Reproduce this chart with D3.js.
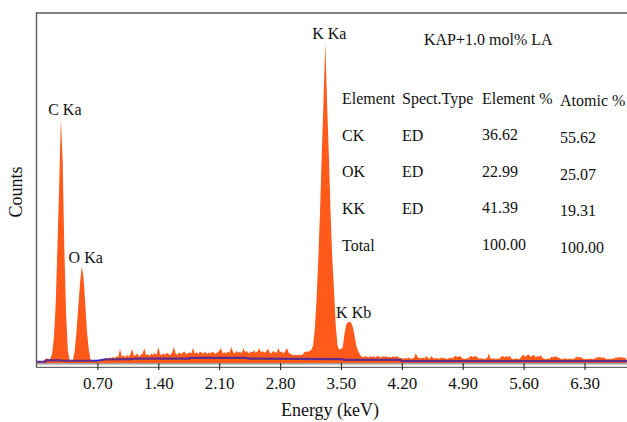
<!DOCTYPE html>
<html>
<head>
<meta charset="utf-8">
<script src="https://cdn.jsdelivr.net/npm/d3@7"></script>
<style>
    body { margin: 0; background: #fff; }
    svg { display: block; font-family: "Liberation Serif", "Times New Roman", serif; }
</style>
</head>
<body>
<div id="showBox"></div>
<script>
// EDS spectrum, one count value per 0.02 keV channel starting at 0 keV
const channelStep = 0.02;
const counts = [
    4, 4, 4, 5, 6, 12, 15, 10, 14, 30,
    80, 180, 360, 550, 766, 640, 360, 157, 40, 10,
    8, 10, 40, 100, 175, 250, 303, 270, 190, 100,
    45, 12, 6, 5, 6, 6, 5, 6, 7, 14,
    16, 12, 18, 15, 20, 14, 22, 18, 45, 20,
    24, 18, 26, 20, 28, 45, 22, 25, 30, 20,
    26, 30, 46, 24, 28, 22, 30, 26, 32, 24,
    50, 28, 24, 30, 26, 32, 28, 24, 34, 50,
    30, 26, 34, 28, 32, 36, 28, 30, 34, 30,
    47, 30, 34, 28, 36, 32, 30, 35, 28, 33,
    30, 36, 32, 28, 34, 38, 47, 30, 34, 30,
    36, 32, 50, 34, 30, 38, 32, 36, 30, 47,
    34, 38, 30, 36, 33, 40, 32, 36, 46, 34,
    38, 32, 36, 45, 34, 30, 38, 34, 32, 47,
    34, 36, 30, 38, 46, 32, 28, 26, 24, 26,
    24, 26, 25, 27, 34, 36, 35, 38, 42, 55,
    110, 200, 330, 480, 660, 830, 1005, 820, 660, 480,
    330, 230, 120, 55, 42, 45, 48, 90, 120, 128,
    130, 126, 110, 80, 50, 38, 25, 20, 18, 22,
    20, 17, 22, 19, 21, 18, 23, 20, 17, 21,
    19, 22, 18, 20, 17, 21, 19, 22, 18, 16,
    15, 13, 16, 14, 17, 13, 15, 16, 31, 18,
    16, 14, 17, 15, 22, 16, 13, 22, 15, 14,
    16, 13, 15, 17, 14, 16, 12, 15, 17, 14,
    20, 23, 18, 22, 19, 14, 12, 15, 13, 20,
    22, 18, 23, 20, 15, 13, 16, 12, 14, 15,
    30, 14, 13, 15, 12, 14, 13, 20, 22, 18,
    21, 19, 23, 14, 12, 13, 15, 12, 14, 22,
    26, 20, 24, 27, 19, 23, 25, 18, 22, 20,
    24, 15, 13, 12, 14, 13, 20, 18, 21, 19,
    17, 14, 12, 13, 15, 12, 13, 14, 12, 13,
    18, 20, 17, 19, 14, 12, 13, 12, 14, 13,
    12, 14, 18, 17, 20, 16, 18, 14, 12, 13,
    12, 14, 13, 18, 16, 19, 17, 18, 15, 17
];

// fitted background (keV, counts)
const background = [
    [0, 4], [0.10, 4], [0.11, 8], [0.28, 8], [0.30, 7], [0.70, 7],
    [0.78, 11], [1.10, 12], [1.12, 14], [1.75, 14], [1.78, 16], [2.40, 16],
    [2.45, 14], [3.50, 12], [3.55, 10], [4.18, 10], [4.20, 6], [6.80, 6]
];

const tickValues = [0.70, 1.40, 2.10, 2.80, 3.50, 4.20, 4.90, 5.60, 6.30];

// peak name, line energy (keV)
const peakNames = ["C Ka", "O Ka", "K Ka", "K Kb"];
const peakEnergies = [0.28, 0.52, 3.32, 3.60];

const sampleTitle = "KAP+1.0 mol% LA";
const tableHeader = ["Element", "Spect.Type", "Element %", "Atomic %"];
const elements = ["CK", "OK", "KK", "Total"];
const spectTypes = ["ED", "ED", "ED", ""];
const elementPct = ["36.62", "22.99", "41.39", "100.00"];
const atomicPct = ["55.62", "25.07", "19.31", "100.00"];

const W = 627, H = 422;
const plotLeft = 36.5, plotRight = 628, plotTop = 13, plotBase = 363;

const svg = d3.select("#showBox").append("svg")
    .attr("width", W)
    .attr("height", H);

const x = d3.scaleLinear().domain([0, 6.8]).range([plotLeft, plotRight]);
const y = d3.scaleLinear().domain([0, 1100]).range([plotBase, plotTop]);

const spectrum = counts.map((c, i) => [i * channelStep, c]);

const area = d3.area()
    .x(d => x(d[0]))
    .y0(y(0))
    .y1(d => y(d[1]));

const line = d3.line()
    .x(d => x(d[0]))
    .y(d => y(d[1]));

// clip for the part of the background line that sits under the spectrum
svg.append("clipPath").attr("id", "specClip")
    .append("path")
    .attr("d", area(spectrum));

svg.append("path")
    .attr("d", line(background))
    .attr("fill", "none")
    .attr("stroke", "#2727dc")
    .attr("stroke-width", 2.2);

svg.append("path")
    .attr("d", area(spectrum))
    .attr("fill", "#ff5a1a");

svg.append("path")
    .attr("d", line(background))
    .attr("clip-path", "url(#specClip)")
    .attr("fill", "none")
    .attr("stroke", "#5e2c8e")
    .attr("stroke-width", 2.2);

// frame
svg.append("path")
    .attr("d", `M${plotLeft},367.5V${plotTop}H${plotRight}`)
    .attr("fill", "none")
    .attr("stroke", "#5a5a5a")
    .attr("stroke-width", 1.4);

svg.append("line")
    .attr("x1", plotLeft).attr("x2", plotRight)
    .attr("y1", plotBase + 0.8).attr("y2", plotBase + 0.8)
    .attr("stroke", "#8a8a8a").attr("stroke-width", 1.2);

svg.append("line")
    .attr("x1", plotLeft).attr("x2", plotRight)
    .attr("y1", plotBase + 4.3).attr("y2", plotBase + 4.3)
    .attr("stroke", "#6a6a6a").attr("stroke-width", 1.2);

// x axis
const axis = svg.append("g")
    .attr("transform", `translate(0,${plotBase})`)
    .call(d3.axisBottom(x)
        .tickValues(tickValues)
        .tickSize(7)
        .tickFormat(d3.format(".2f")));

axis.select(".domain").remove();
axis.selectAll(".tick line")
    .attr("stroke", "#333")
    .attr("stroke-width", 1.2);
axis.selectAll(".tick text")
    .attr("y", 26)
    .attr("dy", 0)
    .attr("fill", "#111")
    .attr("font-size", 17)
    .attr("font-family", "Liberation Serif, serif");

svg.append("text")
    .attr("x", 330)
    .attr("y", 416)
    .attr("text-anchor", "middle")
    .attr("font-size", 18)
    .attr("fill", "#111")
    .text("Energy (keV)");

svg.append("text")
    .attr("transform", "translate(22,192) rotate(-90)")
    .attr("text-anchor", "middle")
    .attr("font-size", 18)
    .attr("fill", "#111")
    .text("Counts");

// peak labels
svg.append("g")
    .attr("font-size", 16)
    .attr("fill", "#111")
    .attr("text-anchor", "middle")
    .selectAll("text")
    .data(peakNames)
    .join("text")
    .attr("x", (d, i) => x(peakEnergies[i]) + 4)
    .attr("y", (d, i) => y(counts[Math.round(peakEnergies[i] / channelStep)]) - 4)
    .text(d => d);

// sample title
svg.append("text")
    .attr("x", 424)
    .attr("y", 45)
    .attr("font-size", 16)
    .attr("fill", "#111")
    .text(sampleTitle);

// quantification table
const colX = [342, 402, 482, 560];
const rowY = d3.scaleLinear().domain([0, 4]).range([104, 250.5]);
const columns = [elements, spectTypes, elementPct, atomicPct];

const table = svg.append("g")
    .attr("font-size", 16)
    .attr("fill", "#111");

table.selectAll("text.head")
    .data(tableHeader)
    .join("text")
    .attr("class", "head")
    .attr("x", (d, i) => colX[i])
    .attr("y", (d, i) => rowY(0) + (i === 3 ? 2 : 0))
    .text(d => d);

columns.forEach((col, c) => {
    table.selectAll(`text.col${c}`)
        .data(col)
        .join("text")
        .attr("class", `col${c}`)
        .attr("x", colX[c])
        .attr("y", (d, r) => rowY(r + 1) + (c === 3 ? 2.5 : c === 2 ? -0.5 : 0))
        .text(d => d);
});
</script>
</body>
</html>
